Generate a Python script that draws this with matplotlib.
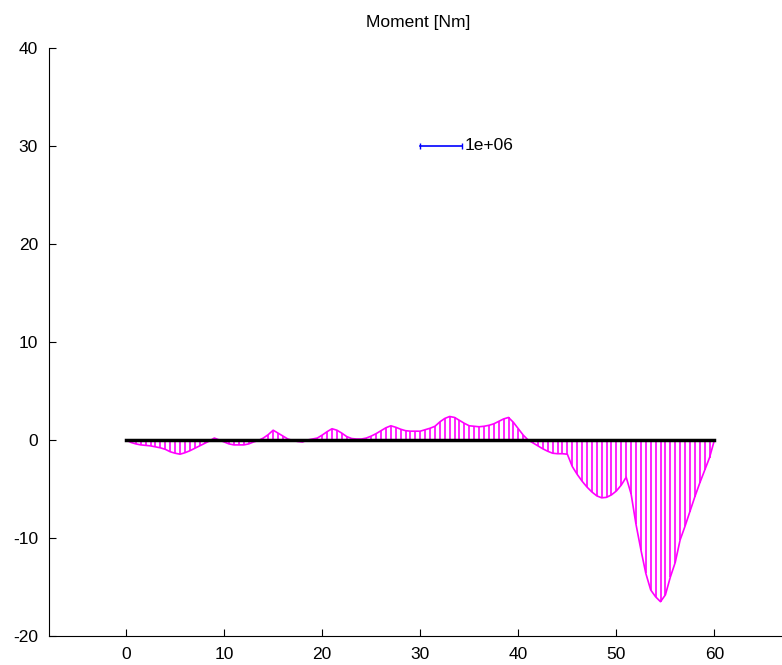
import numpy as np
import matplotlib
matplotlib.use('Agg')
import matplotlib.pyplot as plt

plt.rcParams['font.family'] = ['Liberation Sans', 'DejaVu Sans']
plt.rcParams['axes.unicode_minus'] = False

# position along beam [m]
x = np.arange(0, 60.5, 0.5)
# moment values (scaled)
moment = [0.0, -0.25, -0.4, -0.5, -0.55, -0.6, -0.7, -0.8, -0.95, -1.2,
          -1.35, -1.45, -1.3, -1.1, -0.85, -0.6, -0.35, -0.1, 0.2, 0.0,
          -0.2, -0.4, -0.5, -0.5, -0.5, -0.4, -0.2, -0.05, 0.2, 0.55,
          1.0, 0.7, 0.4, 0.1, -0.05, -0.15, -0.2, 0.0, 0.1, 0.2,
          0.5, 0.85, 1.15, 1.0, 0.7, 0.35, 0.15, 0.1, 0.1, 0.2,
          0.4, 0.65, 0.95, 1.25, 1.45, 1.3, 1.1, 0.95, 0.9, 0.9,
          0.9, 1.05, 1.2, 1.4, 1.85, 2.2, 2.4, 2.3, 2.0, 1.7,
          1.45, 1.4, 1.35, 1.4, 1.5, 1.65, 1.9, 2.15, 2.3, 1.8,
          1.15, 0.5, 0.0, -0.3, -0.6, -0.9, -1.15, -1.35, -1.4, -1.4,
          -1.45, -2.7, -3.5, -4.2, -4.8, -5.3, -5.7, -5.9, -5.85, -5.6,
          -5.2, -4.6, -3.8, -5.5, -8.6, -11.2, -13.6, -15.3, -16.0, -16.5,
          -15.8, -14.0, -12.5, -10.2, -8.8, -7.3, -5.8, -4.4, -3.1, -1.8,
          0.0]

beam = [0, 60]
scale_x = [30, 34.3]
scale_y = 30
scale_label = '1e+06'

fig = plt.figure(figsize=(7.82, 6.65), dpi=100)
ax = fig.add_axes([49 / 782, 29 / 665, 738 / 782, 588 / 665])

ax.vlines(x, 0, moment, colors='magenta', linewidth=1.2)
ax.plot(x, moment, color='magenta', linewidth=1.2)
ax.plot(beam, [0, 0], color='black', linewidth=2.5)

ax.plot(scale_x, [scale_y, scale_y], color='blue', linewidth=1.2,
        marker='|', markersize=4)
ax.text(scale_x[1] + 0.2, scale_y, scale_label, fontsize=12.5,
        va='center', ha='left')

ax.set_xlim(-7.86, 67.4)
ax.set_ylim(-20, 40)
ax.set_xticks([0, 10, 20, 30, 40, 50, 60])
ax.set_yticks([-20, -10, 0, 10, 20, 30, 40])
ax.tick_params(direction='in', length=5, labelsize=12.5, pad=8)
ax.spines['top'].set_visible(False)
ax.spines['right'].set_visible(False)
ax.set_title('Moment [Nm]', fontsize=12.5, pad=15)

fig.savefig('out.png', dpi=100)
